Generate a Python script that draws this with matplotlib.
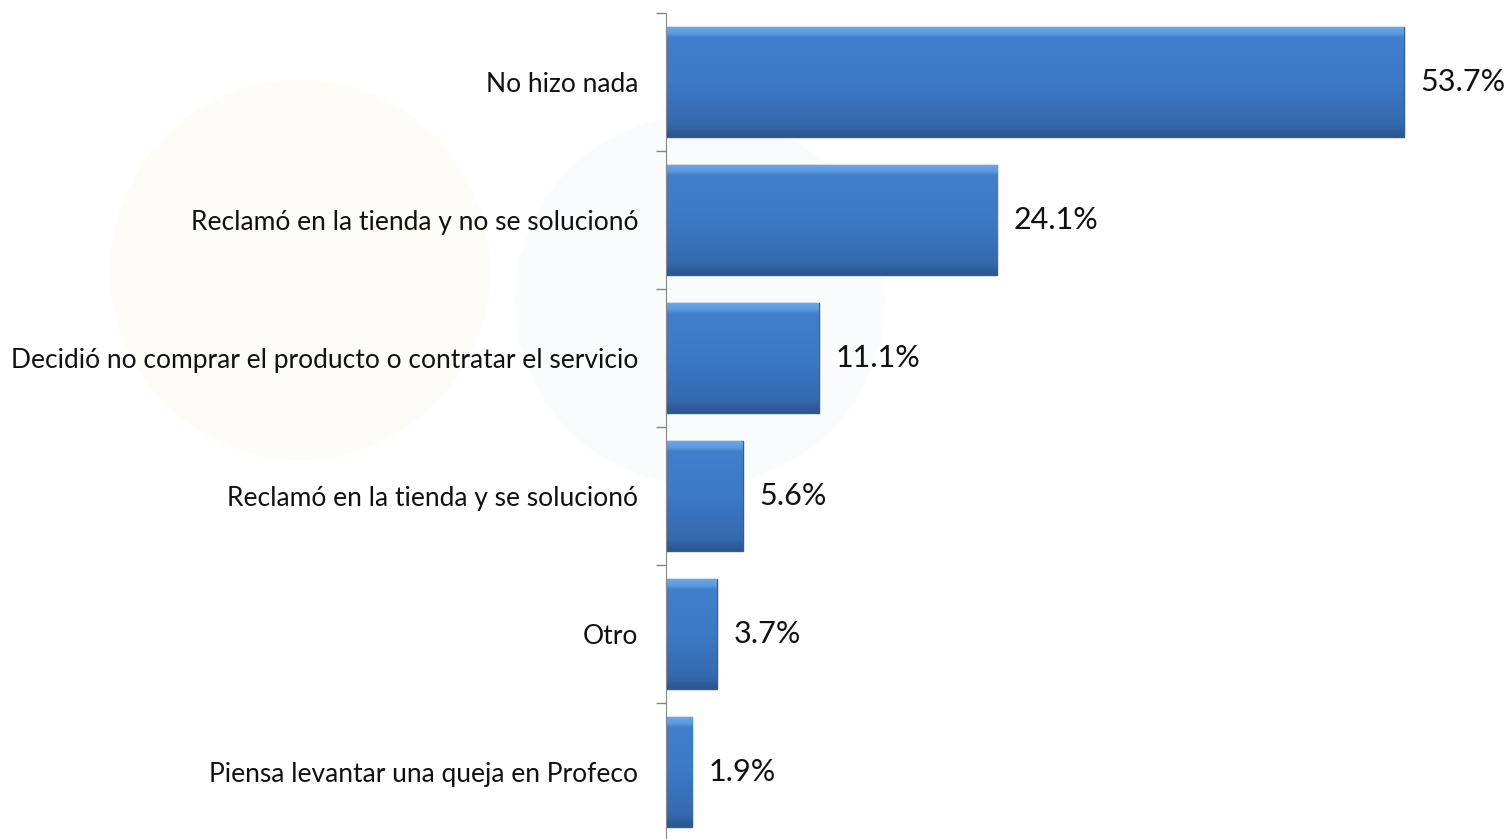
import matplotlib.pyplot as plt
import numpy as np
from matplotlib.patches import Circle
from matplotlib.colors import LinearSegmentedColormap

categorias = ['No hizo nada',
              'Reclamó en la tienda y no se solucionó',
              'Decidió no comprar el producto o contratar el servicio',
              'Reclamó en la tienda y se solucionó',
              'Otro',
              'Piensa levantar una queja en Profeco']
valores = [53.7, 24.1, 11.1, 5.6, 3.7, 1.9]
etiquetas = ['53.7%', '24.1%', '11.1%', '5.6%', '3.7%', '1.9%']

plt.rcParams['font.family'] = ['Lato', 'DejaVu Sans']

fig = plt.figure(figsize=(15.11, 8.39), dpi=100)
fig.patch.set_facecolor('white')

# marca de agua tenue del fondo (en un eje de fondo en pixeles)
bg = fig.add_axes([0, 0, 1, 1], zorder=-1)
bg.set_xlim(0, 1511)
bg.set_ylim(839, 0)
bg.axis('off')
bg.add_patch(Circle((300, 270), 190, facecolor='#fefcf6', edgecolor='none'))
bg.add_patch(Circle((700, 300), 185, facecolor='#f9fbfd', edgecolor='none'))

ax = fig.add_axes([666 / 1511, 1 - 841 / 839, 845 / 1511, 828 / 839])
ax.patch.set_alpha(0)

pos = list(range(len(valores)))
alto = 0.8

# degradado vertical para el efecto biselado
cmap = LinearSegmentedColormap.from_list('bisel', [
    (0.0, '#6aa8ea'), (0.06, '#5d9be0'), (0.1, '#417fcd'),
    (0.5, '#3c79c6'), (0.9, '#3569ae'), (0.95, '#2e5d9a'), (1.0, '#2b5892')])
grad = np.linspace(0, 1, 200).reshape(-1, 1)

barras = ax.barh(pos, valores, height=alto, color='#3a75c0', edgecolor='#2e5e9a',
                 linewidth=1.0, zorder=2)
for b in barras:
    x0, y0 = b.get_x(), b.get_y()
    im = ax.imshow(grad, cmap=cmap, aspect='auto', zorder=2.5,
                   extent=(x0, x0 + b.get_width(), y0 + b.get_height(), y0))
    im.set_clip_path(b)

for p, v, t in zip(pos, valores, etiquetas):
    ax.annotate(t, (v, p), xytext=(12, 0), textcoords='offset points',
                va='center', ha='left', fontsize=22, color='#111111')

ax.set_xlim(0, 61.5)
ax.set_ylim(len(valores) - 0.5, -0.5)

ax.set_yticks(pos)
ax.set_yticklabels(categorias, fontsize=19, color='#111111')
ax.tick_params(axis='y', which='major', length=0, pad=20)
ax.set_yticks([p - 0.5 for p in pos] + [len(valores) - 0.5], minor=True)
ax.tick_params(axis='y', which='minor', length=7, color='#868686', width=1)
ax.set_xticks([])

for s in ['top', 'right', 'bottom']:
    ax.spines[s].set_visible(False)
ax.spines['left'].set_color('#868686')

fig.savefig('out.png', dpi=100)
